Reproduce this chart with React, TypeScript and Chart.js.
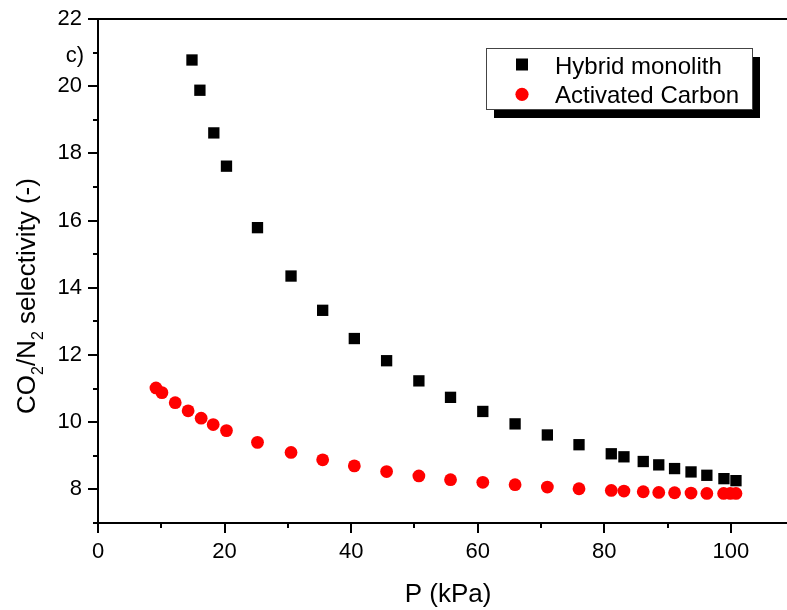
import React, { useEffect, useRef } from "react";
import { Chart, registerables } from "chart.js";

Chart.register(...registerables);

// ---- data ----
const hybridP = [14.85, 16.1, 18.3, 20.3, 25.2, 30.5, 35.5, 40.5, 45.6, 50.7, 55.7, 60.8, 65.9, 71.0, 76.0, 81.1, 83.1, 86.15, 88.6, 91.1, 93.7, 96.2, 98.9, 100.8];
const hybridSel = [20.78, 19.88, 18.61, 17.62, 15.79, 14.35, 13.33, 12.49, 11.83, 11.23, 10.74, 10.32, 9.95, 9.62, 9.33, 9.06, 8.97, 8.83, 8.73, 8.62, 8.52, 8.42, 8.32, 8.26];

const carbonP = [9.16, 10.1, 12.2, 14.24, 16.3, 18.2, 20.3, 25.2, 30.5, 35.5, 40.5, 45.6, 50.7, 55.7, 60.8, 65.9, 71.0, 76.0, 81.1, 83.1, 86.15, 88.6, 91.1, 93.7, 96.2, 98.85, 99.9, 100.8];
const carbonSel = [11.02, 10.88, 10.58, 10.34, 10.12, 9.93, 9.75, 9.4, 9.1, 8.88, 8.7, 8.53, 8.4, 8.29, 8.21, 8.14, 8.07, 8.02, 7.97, 7.95, 7.93, 7.91, 7.9, 7.89, 7.88, 7.88, 7.88, 7.88];

const xTickValues = [0, 20, 40, 60, 80, 100];
const xMinorTicks = [10, 30, 50, 70, 90];
const yTickValues = [8, 10, 12, 14, 16, 18, 20, 22];
const yMinorTicks = [7, 9, 11, 13, 15, 17, 19, 21];

const seriesNames = ["Hybrid monolith", "Activated Carbon"];
const xTitle = "P (kPa)";
const yTitleParts = [
  { t: "CO", sub: false },
  { t: "2", sub: true },
  { t: "/N", sub: false },
  { t: "2", sub: true },
  { t: " selectivity (-)", sub: false },
];
const panelLabel = "c)";

const FONT = "Arial, 'Liberation Sans', sans-serif";
const RED = "#ff0000";

const decorPlugin = {
  id: "decor",
  afterDraw(chart: any) {
    const { ctx, chartArea, scales } = chart;
    const xs = scales.x;
    const ys = scales.y;
    const L = chartArea.left;
    const B = chartArea.bottom;
    const T = chartArea.top;
    const W = chart.width;
    ctx.save();
    ctx.strokeStyle = "#000";
    ctx.lineWidth = 2;
    ctx.beginPath();
    // axes
    ctx.moveTo(L, T - 1);
    ctx.lineTo(L, B + 1);
    ctx.moveTo(L, B);
    ctx.lineTo(W, B);
    ctx.moveTo(L, T);
    ctx.lineTo(W, T);
    // y ticks
    yTickValues.forEach((v) => {
      const p = Math.round(ys.getPixelForValue(v));
      ctx.moveTo(L, p);
      ctx.lineTo(L - 10, p);
    });
    yMinorTicks.forEach((v) => {
      const p = Math.round(ys.getPixelForValue(v));
      ctx.moveTo(L, p);
      ctx.lineTo(L - 5, p);
    });
    // x ticks
    xTickValues.forEach((v) => {
      const p = Math.round(xs.getPixelForValue(v));
      ctx.moveTo(p, B);
      ctx.lineTo(p, B + 10);
    });
    xMinorTicks.forEach((v) => {
      const p = Math.round(xs.getPixelForValue(v));
      ctx.moveTo(p, B);
      ctx.lineTo(p, B + 5);
    });
    ctx.stroke();

    // x title
    ctx.fillStyle = "#000";
    ctx.font = `26px ${FONT}`;
    ctx.textAlign = "center";
    ctx.textBaseline = "alphabetic";
    ctx.fillText(xTitle, 448, 602);

    // y title with subscripts
    ctx.save();
    ctx.translate(35, 414);
    ctx.rotate(-Math.PI / 2);
    ctx.textAlign = "left";
    let cx = 0;
    yTitleParts.forEach((part) => {
      ctx.font = part.sub ? `16px ${FONT}` : `26px ${FONT}`;
      ctx.fillText(part.t, cx, part.sub ? 8 : 0);
      cx += ctx.measureText(part.t).width;
    });
    ctx.restore();

    // panel label
    ctx.font = `22px ${FONT}`;
    ctx.textAlign = "right";
    ctx.fillText(panelLabel, 84, 62);

    // legend with shadow
    ctx.fillStyle = "#000";
    ctx.fillRect(494, 57, 266, 61);
    ctx.fillStyle = "#fff";
    ctx.fillRect(486.5, 48.5, 266, 61);
    ctx.strokeStyle = "#444";
    ctx.lineWidth = 1;
    ctx.strokeRect(486.5, 48.5, 266, 61);
    ctx.fillStyle = "#000";
    ctx.fillRect(516, 58.5, 12, 12);
    ctx.fillStyle = RED;
    ctx.beginPath();
    ctx.arc(522, 94.3, 6.6, 0, Math.PI * 2);
    ctx.fill();
    ctx.fillStyle = "#000";
    ctx.font = `24px ${FONT}`;
    ctx.textAlign = "left";
    ctx.fillText(seriesNames[0], 555, 73.5);
    ctx.fillText(seriesNames[1], 555, 102.8);
    ctx.restore();
  },
};

export default function App() {
  const ref = useRef<HTMLCanvasElement | null>(null);
  useEffect(() => {
    if (!ref.current) return;
    const tickFont = { family: FONT, size: 22 };
    const chart = new Chart(ref.current, {
      type: "scatter",
      data: {
        datasets: [
          {
            label: seriesNames[0],
            data: hybridP.map((p, i) => ({ x: p, y: hybridSel[i] })),
            pointStyle: "rect",
            pointRadius: 8,
            pointHoverRadius: 8,
            backgroundColor: "#000",
            borderColor: "#000",
            borderWidth: 0,
          },
          {
            label: seriesNames[1],
            data: carbonP.map((p, i) => ({ x: p, y: carbonSel[i] })),
            pointStyle: "circle",
            pointRadius: 6.4,
            pointHoverRadius: 6.4,
            backgroundColor: RED,
            borderColor: RED,
            borderWidth: 0,
          },
        ],
      },
      options: {
        responsive: false,
        animation: false,
        events: [],
        layout: { padding: { top: 19, right: 1, left: 0, bottom: 0 } },
        plugins: { legend: { display: false }, tooltip: { enabled: false } },
        scales: {
          x: {
            type: "linear",
            min: 0,
            max: 107.6,
            afterFit(s: any) {
              s.height = 87;
              s.paddingLeft = 0;
              s.paddingRight = 0;
              s.paddingTop = 0;
              s.paddingBottom = 0;
            },
            afterBuildTicks(s: any) {
              s.ticks = xTickValues.map((v) => ({ value: v }));
            },
            grid: { display: false, drawTicks: false },
            border: { display: false },
            ticks: { padding: 16, color: "#000", font: tickFont, maxRotation: 0, autoSkip: false },
          },
          y: {
            type: "linear",
            min: 7,
            max: 22,
            afterFit(s: any) {
              s.width = 98;
              s.paddingLeft = 0;
              s.paddingRight = 0;
              s.paddingTop = 0;
              s.paddingBottom = 0;
            },
            afterBuildTicks(s: any) {
              s.ticks = yTickValues.map((v) => ({ value: v }));
            },
            grid: { display: false, drawTicks: false },
            border: { display: false },
            ticks: { padding: 16, color: "#000", font: tickFont, autoSkip: false },
          },
        },
      },
      plugins: [decorPlugin],
    } as any);
    return () => chart.destroy();
  }, []);
  return (
    <div style={{ position: "absolute", left: 0, top: 0, width: 787, height: 610, background: "#fff" }}>
      <canvas ref={ref} width={787} height={610} style={{ display: "block" }} />
    </div>
  );
}
